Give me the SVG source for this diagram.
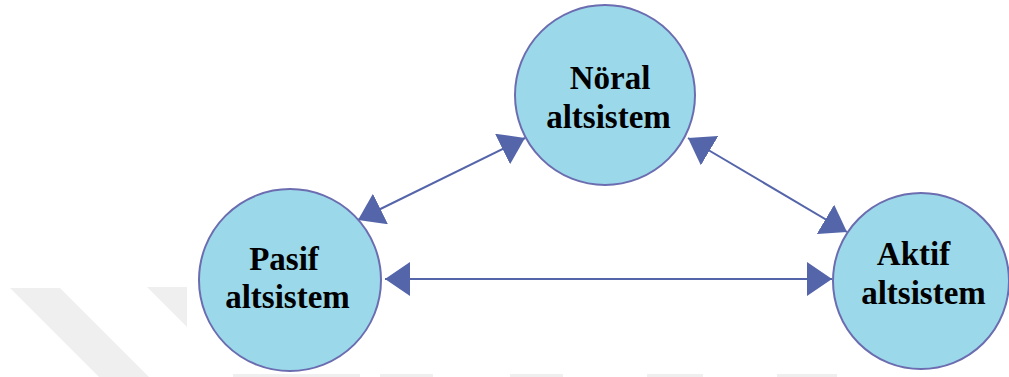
<svg xmlns="http://www.w3.org/2000/svg" width="1009" height="377" viewBox="0 0 1009 377">
  <style>
    .node { fill: #9BD9EA; stroke: #6C6DB0; stroke-width: 2; }
    .label { font-family: "Liberation Serif", "Times New Roman", serif; font-weight: bold; font-size: 33px; fill: #000; text-anchor: middle; }
    .conn { stroke: #5565AA; stroke-width: 2; fill: none; marker-start: url(#arrow); marker-end: url(#arrow); }
    .wm { fill: #EFEFEF; }
  </style>
  <defs>
    <marker id="arrow" viewBox="0 0 25 34" refX="25" refY="17" markerWidth="25" markerHeight="34" markerUnits="userSpaceOnUse" orient="auto-start-reverse">
      <path d="M0,0 L25,17 L0,34 z" fill="#5565AA"/>
    </marker>
  </defs>
  <rect width="1009" height="377" fill="#FFFFFF"/>
  <g id="watermark">
    <polygon class="wm" points="10,288 60,288 149,377 99,377"/>
    <polygon class="wm" points="147,287 187,287 187,327"/>
    <rect class="wm" x="233" y="374" width="127" height="3"/>
    <rect class="wm" x="380" y="374" width="53" height="3"/>
    <rect class="wm" x="510" y="374" width="53" height="3"/>
    <rect class="wm" x="647" y="374" width="56" height="3"/>
    <rect class="wm" x="777" y="374" width="60" height="3"/>
  </g>
  <g id="connectors">
    <line class="conn" x1="358" y1="220" x2="525" y2="138"/>
    <line class="conn" x1="688" y1="138" x2="847" y2="232"/>
    <line class="conn" x1="385" y1="279" x2="832" y2="279"/>
  </g>
  <g id="noral">
    <circle class="node" cx="605" cy="95" r="90"/>
    <text class="label" x="610" y="89">Nöral</text>
    <text class="label" x="608.5" y="128">altsistem</text>
  </g>
  <g id="pasif">
    <circle class="node" cx="290" cy="280" r="91"/>
    <text class="label" x="284" y="270">Pasif</text>
    <text class="label" x="287.5" y="308">altsistem</text>
  </g>
  <g id="aktif">
    <circle class="node" cx="921" cy="281" r="88"/>
    <text class="label" x="913.5" y="265">Aktif</text>
    <text class="label" x="923.5" y="304">altsistem</text>
  </g>
</svg>
